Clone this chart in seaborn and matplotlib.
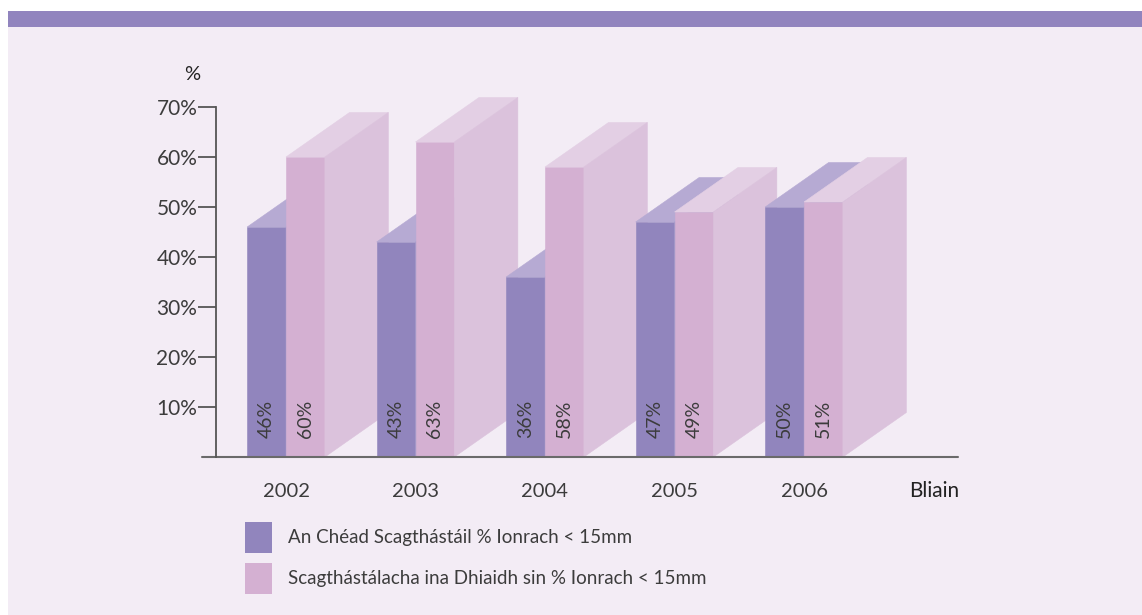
import numpy as np
import pandas as pd
import matplotlib
matplotlib.use("Agg")
import matplotlib.pyplot as plt
import seaborn as sns
from matplotlib.patches import Polygon, Rectangle, Patch

# data
years = ["2002", "2003", "2004", "2005", "2006"]
first_screen = [46, 43, 36, 47, 50]
later_screens = [60, 63, 58, 49, 51]
series_names = [
    "An Chéad Scagthástáil % Ionrach < 15mm",
    "Scagthástálacha ina Dhiaidh sin % Ionrach < 15mm",
]
y_ticks = [10, 20, 30, 40, 50, 60, 70]

# colours: front, top, side for each series
purple = ["#9185bd", "#b6aad3", "#a99dcb"]
pink = ["#d4b0d2", "#e3cfe4", "#dbc2dc"]
bg = "#f3ecf5"
text_col = "#3c3c3c"

sns.set_theme(style="white")
plt.rcParams["font.family"] = ["Lato", "DejaVu Sans"]

W, H = 1142, 615
fig = plt.figure(figsize=(W / 100, H / 100), dpi=100, facecolor="white")

# panel background and top band
fig.patches.append(Rectangle((8 / W, 0), 1, (H - 11) / H, transform=fig.transFigure,
                             facecolor=bg, edgecolor="none", zorder=-10))
fig.patches.append(Rectangle((8 / W, (H - 27) / H), 1, 16 / H, transform=fig.transFigure,
                             facecolor="#9184be", edgecolor="none", zorder=-10))

ax = fig.add_axes([216 / W, (H - 457) / H, (958 - 216) / W, 375 / H])
ax.set_facecolor("none")
ax.set_zorder(2)

df = pd.DataFrame({
    "year": years * 2,
    "value": first_screen + later_screens,
    "series": [series_names[0]] * len(years) + [series_names[1]] * len(years),
})

sns.barplot(data=df, x="year", y="value", hue="series", hue_order=series_names,
            palette=[purple[0], pink[0]], width=0.6, saturation=1, legend=False,
            linewidth=0, ax=ax)

ax.set_ylim(0, 75)
ax.set_xlim((216 - 286) / 129.5, (958 - 286) / 129.5)

# pseudo-3D depth in data units
dx = 63.5 / 129.5
dy = 8.9

for j, (cont, cols, vals) in enumerate(zip(ax.containers, [purple, pink], [first_screen, later_screens])):
    for i, (bar, v) in enumerate(zip(cont, vals)):
        z = 10 + i * 10 + j * 4
        x0 = bar.get_x()
        x1 = x0 + bar.get_width()
        h = bar.get_height()
        bar.set_zorder(z)
        bar.set_edgecolor(cols[0])
        bar.set_linewidth(0.4)
        top = Polygon([(x0, h), (x1, h), (x1 + dx, h + dy), (x0 + dx, h + dy)],
                      facecolor=cols[1], edgecolor=cols[1], lw=0.4, zorder=z + 1, clip_on=False)
        side = Polygon([(x1, 0), (x1 + dx, dy), (x1 + dx, h + dy), (x1, h)],
                       facecolor=cols[2], edgecolor=cols[2], lw=0.4, zorder=z + 1, clip_on=False)
        ax.add_patch(top)
        ax.add_patch(side)
        ax.text((x0 + x1) / 2, 7.6, f"{v}%", rotation=90, ha="center", va="center",
                fontsize=14, color=text_col, zorder=200)

# axes styling
for s in ["top", "right", "bottom"]:
    ax.spines[s].set_visible(False)
ax.spines["left"].set_bounds(0, 70)
ax.spines["left"].set_color("#555555")
ax.spines["left"].set_linewidth(1.3)
ax.spines["left"].set_zorder(300)
ax.axhline(0, xmin=-14 / 742, xmax=1, color="#6a6a6a", lw=1.5, clip_on=False, zorder=300)

ax.set_yticks(y_ticks)
ax.set_yticklabels([f"{t}%" for t in y_ticks])
ax.tick_params(axis="y", left=True, length=13, width=1.3, color="#555555", pad=0.5,
               labelsize=15, labelcolor=text_col)
ax.set_xticks(range(len(years)))
ax.set_xticklabels(years)
ax.tick_params(axis="x", bottom=False, length=0, pad=19, labelsize=14.5, labelcolor=text_col)
ax.set_xlabel("")
ax.set_ylabel("")

fig.text(192 / W, 1 - 75 / H, "%", ha="center", va="center", fontsize=14.5, color="#222222")
fig.text(934 / W, 1 - 491 / H, "Bliain", ha="center", va="center", fontsize=15, color="#222222")

handles = [Patch(facecolor=purple[0], edgecolor="none"), Patch(facecolor=pink[0], edgecolor="none")]
fig.legend(handles, series_names, loc="upper left", bbox_to_anchor=(245 / W, 1 - 522 / H),
           frameon=False, fontsize=13.5, handlelength=1.45, handleheight=2.15,
           handletextpad=0.85, labelspacing=0.55, borderpad=0, borderaxespad=0,
           labelcolor=text_col)

fig.savefig("out.png", dpi=100, facecolor=fig.get_facecolor())
